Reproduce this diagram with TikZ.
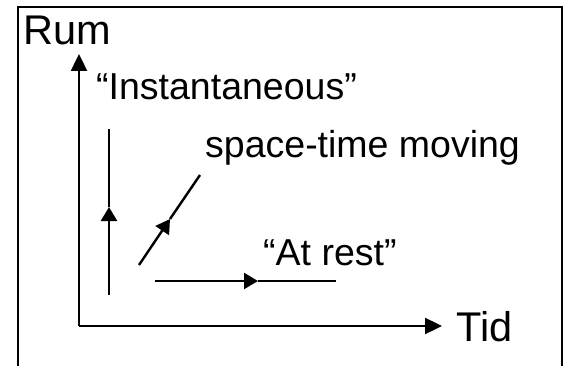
\documentclass[tikz,border=0pt]{standalone}
\usepackage{fontspec}
\setmainfont{Liberation Sans}
\usetikzlibrary{arrows.meta}
\begin{document}
\begin{tikzpicture}[x=1pt,y=-1pt,
  axis/.style={line width=2.4pt,-{Triangle[length=17pt,width=16pt]}},
  midarrow/.style={line width=2.4pt,-{Triangle[length=14pt,width=16pt]}},
  plain/.style={line width=2.4pt},
  frameline/.style={line width=2pt},
  biglabel/.style={anchor=base west,inner sep=0pt,font=\fontsize{41.5}{48}\selectfont},
  label/.style={anchor=base west,inner sep=0pt,font=\fontsize{37.5}{43}\selectfont}]
\useasboundingbox (0,0) rectangle (567,366);
% frame
\coordinate (fbl) at (18,368);
\coordinate (ftl) at (18,7);
\coordinate (ftr) at (562,7);
\coordinate (fbr) at (562,368);
\draw[frameline] (fbl) -- (ftl) -- (ftr) -- (fbr);
% axes
\coordinate (o) at (79,326);
\coordinate (ytip) at (79,54);
\coordinate (xtip) at (442,326);
\draw[axis] (o) -- (ytip);
\draw[axis] (o) -- (xtip);
% labels
\node[biglabel] (rum) at (23,45) {Rum};
\node[biglabel] (tid) at (456,341) {Tid};
\node[label] (inst) at (96,100) {“Instantaneous”};
\node[label] (stm) at (205,158) {space-time moving};
\node[label] (rest) at (263,265) {“At rest”};
% instantaneous
\coordinate (ia) at (109,295);
\coordinate (im) at (109,207);
\coordinate (ib) at (109,129);
\draw[midarrow] (ia) -- (im);
\draw[plain] (im) -- (ib);
% space-time moving
\coordinate (da) at (139,265);
\coordinate (dm) at (170,219);
\coordinate (db) at (200,175);
\draw[midarrow] (da) -- (dm);
\draw[plain] (dm) -- (db);
% at rest
\coordinate (ha) at (155,281);
\coordinate (hm) at (258,281);
\coordinate (hb) at (336,281);
\draw[midarrow] (ha) -- (hm);
\draw[plain] (hm) -- (hb);
\end{tikzpicture}
\end{document}
